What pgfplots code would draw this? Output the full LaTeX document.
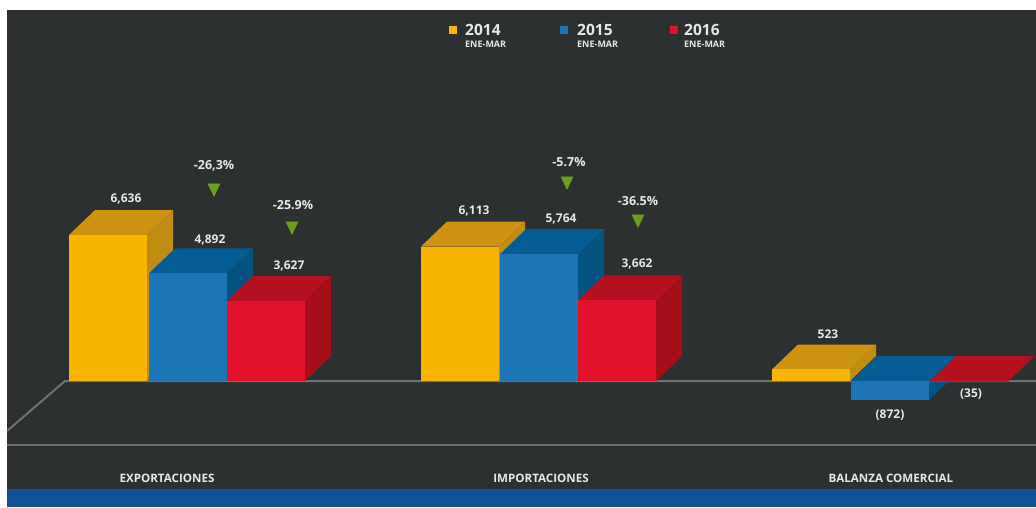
\documentclass[border=0pt]{standalone}
\usepackage{fontspec}
\setmainfont{Open Sans}
\usepackage{pgfplots}
\pgfplotsset{compat=1.18}

\definecolor{panel}{HTML}{2D3031}
\definecolor{band}{HTML}{0F4F96}
\definecolor{rule}{HTML}{6E7070}
\definecolor{yfront}{HTML}{F7B500}
\definecolor{ytop}{HTML}{CE9312}
\definecolor{yside}{HTML}{C18C12}
\definecolor{bfront}{HTML}{1C76B6}
\definecolor{btop}{HTML}{055C93}
\definecolor{bside}{HTML}{04527F}
\definecolor{rfront}{HTML}{E3122C}
\definecolor{rtop}{HTML}{B5101F}
\definecolor{rside}{HTML}{A60F18}
\definecolor{arrowgreen}{HTML}{6C9E1F}
\definecolor{lab}{HTML}{E6E8E8}

\pgfplotsset{
  sheet/.style={
    scale only axis, width=1036pt, height=507pt,
    xmin=0, xmax=1036, hide axis, clip=true
  }
}

% One bar with depth: #1 left edge, #2 value, #3/#4/#5 front, top and side colours
\newcommand{\prism}[5]{%
  \pgfmathsetmacro{\xl}{#1}%
  \pgfmathsetmacro{\xr}{#1+78}%
  \pgfmathsetmacro{\xlb}{#1+26}%
  \pgfmathsetmacro{\xrb}{#1+104}%
  \pgfmathsetmacro{\xm}{#1+39}%
  \pgfmathsetmacro{\hi}{max(#2,0)}%
  \pgfmathsetmacro{\lo}{min(#2,0)}%
  \pgfmathsetmacro{\hib}{\hi+1136}%
  \pgfmathsetmacro{\lob}{\lo+1136}%
  \addplot[fill=#5, draw=none] coordinates {(\xr,\lo) (\xrb,\lob) (\xrb,\hib) (\xr,\hi)} -- cycle;
  \addplot[fill=#4, draw=none] coordinates {(\xl,\hi) (\xr,\hi) (\xrb,\hib) (\xlb,\hib)} -- cycle;
  \addplot[ybar, bar shift=0pt, bar width=78pt, fill=#3, draw=none] coordinates {(\xm,#2)};
}

\begin{document}
\begin{tikzpicture}
% Panel, floor lines, labels and legend, in sheet units with y running downward
\begin{axis}[sheet, ymin=0, ymax=507, y dir=reverse]
  \addplot[fill=white, draw=none] coordinates {(0,0) (1036,0) (1036,507) (0,507)} -- cycle;
  \addplot[fill=panel, draw=none] coordinates {(7,10) (1036,10) (1036,507) (7,507)} -- cycle;
  \addplot[fill=band, draw=none] coordinates {(7,489) (1036,489) (1036,507) (7,507)} -- cycle;
  \addplot[rule, line width=2pt] coordinates {(7,431) (65,381) (1036,381)};
  \addplot[rule, line width=2pt] coordinates {(7,445) (1036,445)};

  % legend
  \addplot[only marks, mark=square*, mark size=3.5pt, yfront] coordinates {(453,30)};
  \addplot[only marks, mark=square*, mark size=3.5pt, bfront] coordinates {(564,30)};
  \addplot[only marks, mark=square*, mark size=3.5pt, rfront] coordinates {(674,30)};
  \foreach \xx/\yy in {465/2014, 577/2015, 684/2016} {
    \edef\temp{\noexpand\node[anchor=west, inner sep=0pt, text=lab, font=\noexpand\fontsize{15.5}{16}\noexpand\selectfont\noexpand\bfseries] at (axis cs:\xx,30) {\yy};
    \noexpand\node[anchor=west, inner sep=0pt, text=lab, font=\noexpand\fontsize{9}{9}\noexpand\selectfont\noexpand\bfseries] at (axis cs:\xx,44.5) {ENE-MAR};}
    \temp
  }

  % change arrows
  \addplot[only marks, mark=triangle*, mark size=7pt, arrowgreen,
           mark options={rotate=180, yscale=1.2}]
    coordinates {(214,188) (292,226) (567,181) (638,219)};

  \tikzset{val/.style={text=lab, inner sep=0pt, font=\fontsize{12}{12}\selectfont\bfseries}}
  \node[val] at (axis cs:126,199) {6,636};
  \node[val] at (axis cs:210,240) {4,892};
  \node[val] at (axis cs:289,266) {3,627};
  \node[val] at (axis cs:474,211) {6,113};
  \node[val] at (axis cs:561,219) {5,764};
  \node[val] at (axis cs:637,264) {3,662};
  \node[val] at (axis cs:828,334) {523};
  \node[val] at (axis cs:890,415) {(872)};
  \node[val] at (axis cs:971,394) {(35)};
  \tikzset{pct/.style={text=lab, inner sep=0pt, font=\fontsize{12.5}{12.5}\selectfont\bfseries}}
  \node[pct] at (axis cs:214,166) {-26,3\%};
  \node[pct] at (axis cs:293,205) {-25.9\%};
  \node[pct] at (axis cs:569,162) {-5.7\%};
  \node[pct] at (axis cs:638,201) {-36.5\%};

  \tikzset{cat/.style={text=lab, inner sep=0pt, font=\fontsize{11.6}{11.6}\selectfont\bfseries}}
  \node[cat] at (axis cs:167,478) {EXPORTACIONES};
  \node[cat] at (axis cs:541,478) {IMPORTACIONES};
  \node[cat] at (axis cs:891,478) {BALANZA COMERCIAL};
\end{axis}

% Bars in value units, zero on the floor line
\begin{axis}[sheet, ymin=-5727, ymax=17318]
  \prism{69}{6636}{yfront}{ytop}{yside}
  \prism{149}{4892}{bfront}{btop}{bside}
  \prism{227}{3627}{rfront}{rtop}{rside}

  \prism{421}{6113}{yfront}{ytop}{yside}
  \prism{500}{5764}{bfront}{btop}{bside}
  \prism{578}{3662}{rfront}{rtop}{rside}

  \prism{772}{523}{yfront}{ytop}{yside}
  \prism{851}{-872}{bfront}{btop}{bside}
  \prism{930}{-35}{rfront}{rtop}{rside}
\end{axis}
\end{tikzpicture}
\end{document}
